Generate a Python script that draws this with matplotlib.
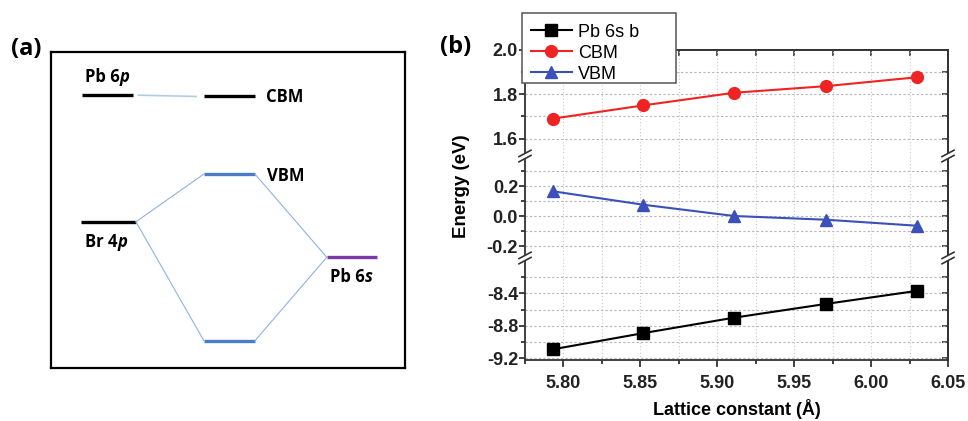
import matplotlib
matplotlib.use("Agg")
import matplotlib.pyplot as plt
from matplotlib.lines import Line2D
from matplotlib.patches import Polygon, Rectangle
from matplotlib.ticker import MultipleLocator, FixedLocator, FormatStrFormatter

plt.rcParams['axes.unicode_minus'] = False
plt.rcParams['font.family'] = ['Liberation Sans', 'DejaVu Sans']
plt.rcParams['font.weight'] = 'bold'

# ---- panel (a): orbital levels (axes fraction) ----
lvl_x0 = [0.087, 0.432, 0.432, 0.085, 0.432, 0.779]
lvl_x1 = [0.232, 0.576, 0.576, 0.240, 0.576, 0.920]
lvl_y = [0.862, 0.860, 0.613, 0.462, 0.086, 0.350]
# Br 4p -> VBM, Br 4p -> bonding, VBM -> Pb 6s, bonding -> Pb 6s
links = [(3, 2), (3, 4), (2, 5), (4, 5)]
lab_main = ['Pb 6', 'CBM', 'VBM', 'Br 4', 'Pb 6']
lab_ital = ['p', '', '', 'p', 's']
lab_x = [0.096, 0.607, 0.610, 0.096, 0.788]
lab_y = [0.903, 0.8415, 0.592, 0.383, 0.273]

# ---- panel (b) data ----
lattice = [5.793, 5.852, 5.911, 5.971, 6.030]
pb6s_b = [-9.09, -8.89, -8.70, -8.53, -8.37]
cbm = [1.690, 1.750, 1.807, 1.837, 1.877]
vbm = [0.165, 0.075, 0.000, -0.025, -0.065]

top_ticks, top_minor = [1.6, 1.8, 2.0], [1.7, 1.9]
mid_ticks, mid_minor = [-0.2, 0.0, 0.2], [-0.1, 0.1, 0.3]
bot_ticks, bot_minor = [-9.2, -8.8, -8.4], [-9.0, -8.6, -8.2]

W, H = 968, 421
fig = plt.figure(figsize=(W / 100, H / 100), dpi=100)


def box(l, t, r, b):
    return [l / W, 1 - b / H, (r - l) / W, (b - t) / H]


# ================= panel (a) =================
axa = fig.add_axes(box(51, 51.5, 405, 368))
axa.set_xlim(0, 1)
axa.set_ylim(0, 1)
axa.set_xticks([])
axa.set_yticks([])
for s in axa.spines.values():
    s.set_linewidth(1.6)

lvl_col = ['black', 'black', '#4a7dc4', 'black', '#4a7dc4', '#7b3aa8']
for i in range(len(lvl_y)):
    axa.plot([lvl_x0[i], lvl_x1[i]], [lvl_y[i], lvl_y[i]], color=lvl_col[i],
             lw=2.4, solid_capstyle='butt')
for i, j in links:
    axa.plot([lvl_x1[i], lvl_x0[j]], [lvl_y[i], lvl_y[j]], color='#8db3e2', lw=0.8)
axa.plot([lvl_x1[0] + 0.015, lvl_x0[1] - 0.022], [lvl_y[0], lvl_y[1] - 0.002],
         color='#b4cbe6', lw=1.2)

afont = 'Open Sans'
for m, it, x, y in zip(lab_main, lab_ital, lab_x, lab_y):
    t = axa.text(x, y, m, family=afont, fontweight='bold', fontsize=12,
                 ha='left', va='baseline')
    if it:
        axa.annotate(it, xy=(1, 0), xycoords=t, family=afont, fontweight='bold',
                     fontstyle='italic', fontsize=12, ha='left', va='bottom')

fig.text(26 / W, 1 - 49 / H, '(a)', family=afont, fontweight='bold', fontsize=17,
         ha='center', va='center')
fig.text(456 / W, 1 - 47 / H, '(b)', family=afont, fontweight='bold', fontsize=17,
         ha='center', va='center')

# ================= panel (b) =================
L, R = 525, 948
ax_top = fig.add_axes(box(L, 50, R, 156))
ax_mid = fig.add_axes(box(L, 156, R, 258))
ax_bot = fig.add_axes(box(L, 258, R, 360))
ax_top.set_ylim(1.5214, 2.0)
ax_mid.set_ylim(-0.28, 0.40)
ax_bot.set_ylim(-9.221, -7.966)

segs = [(ax_top, top_ticks, top_minor), (ax_mid, mid_ticks, mid_minor),
        (ax_bot, bot_ticks, bot_minor)]
for ax, tk, mn in segs:
    ax.set_xlim(5.775, 6.05)
    ax.xaxis.set_major_locator(MultipleLocator(0.05))
    ax.xaxis.set_minor_locator(MultipleLocator(0.025))
    ax.xaxis.set_major_formatter(FormatStrFormatter('%.2f'))
    ax.yaxis.set_major_locator(FixedLocator(tk))
    ax.yaxis.set_minor_locator(FixedLocator(mn))
    ax.yaxis.set_major_formatter(FormatStrFormatter('%.1f'))
    ax.grid(which='both', axis='y', color='#b5b5b5', ls=(0, (2, 2)), lw=0.8)
    ax.grid(which='both', axis='x', color='#c8c8c8', ls=(0, (1, 2)), lw=0.8)
    ax.set_axisbelow(True)
    ax.tick_params(axis='y', which='both', direction='out', width=1.2,
                   labelsize=13, pad=1, colors='#222222')
    ax.tick_params(axis='y', which='major', length=4)
    ax.tick_params(axis='y', which='minor', length=3)
    for s in ax.spines.values():
        s.set_linewidth(1.3)
        s.set_color('#333333')
    sec = ax.secondary_yaxis('right')
    sec.yaxis.set_major_locator(FixedLocator(tk))
    sec.yaxis.set_minor_locator(FixedLocator(mn))
    sec.tick_params(axis='y', which='both', direction='in', labelright=False,
                    width=1.2, length=4, colors='#333333')
    sec.spines['right'].set_linewidth(1.3)
    sec.spines['right'].set_color('#333333')

ax_top.spines['bottom'].set_visible(False)
ax_mid.spines['top'].set_visible(False)
ax_mid.spines['bottom'].set_visible(False)
ax_bot.spines['top'].set_visible(False)
for ax in (ax_top, ax_mid):
    ax.tick_params(axis='x', which='both', bottom=False, labelbottom=False)
ax_bot.tick_params(axis='x', which='both', direction='out', width=1.2,
                   labelsize=13, pad=6, colors='#222222')
ax_bot.tick_params(axis='x', which='major', length=5)
ax_bot.tick_params(axis='x', which='minor', length=3)

secx = ax_top.secondary_xaxis('top')
secx.xaxis.set_major_locator(MultipleLocator(0.05))
secx.xaxis.set_minor_locator(MultipleLocator(0.025))
secx.tick_params(axis='x', which='both', direction='in', labeltop=False,
                 width=1.2, length=4, colors='#333333')
secx.spines['top'].set_linewidth(1.3)
secx.spines['top'].set_color('#333333')

h1, = ax_bot.plot(lattice, pb6s_b, color='black', marker='s', ms=8, lw=1.5,
                  label='Pb 6s b', clip_on=False)
h2, = ax_top.plot(lattice, cbm, color='#f02323', marker='o', ms=8.5, lw=1.5,
                  label='CBM', clip_on=False)
h3, = ax_mid.plot(lattice, vbm, color='#3b50b8', marker='^', ms=9, lw=1.5,
                  label='VBM', clip_on=False)

# legend box (drawn separately, wider than the entries)
fig.add_artist(Rectangle((522 / W, 1 - 83 / H), (676 - 522) / W, (83 - 13) / H,
                         facecolor='white', edgecolor='#555555', lw=1.1,
                         transform=fig.transFigure, zorder=4))
leg = fig.legend(handles=[h1, h2, h3], loc='upper left',
                 bbox_to_anchor=(528 / W, 1 - 21 / H), frameon=False,
                 prop={'family': 'Liberation Sans', 'weight': 'normal', 'size': 13},
                 handlelength=2.3, handletextpad=0.3, borderpad=0.15,
                 labelspacing=0.22, borderaxespad=0)
leg.set_zorder(5)

# axis break marks
for py in (156, 258):
    for px in (L, R):
        dx, dy, g = 6, 3.2, 2.6
        pts = [(px - dx, py + dy - g), (px + dx, py - dy - g),
               (px + dx, py - dy + g), (px - dx, py + dy + g)]
        fig.add_artist(Polygon([(x / W, 1 - y / H) for x, y in pts], closed=True,
                               facecolor='white', edgecolor='none',
                               transform=fig.transFigure))
        for off in (-g, g):
            fig.add_artist(Line2D([(px - dx) / W, (px + dx) / W],
                                  [1 - (py + dy + off) / H, 1 - (py - dy + off) / H],
                                  color='#333333', lw=1.2, transform=fig.transFigure))

fig.text(461 / W, 1 - 186 / H, 'Energy (eV)', rotation=90, ha='center', va='center',
         fontsize=13.5, fontweight='bold')
fig.text((L + R) / 2 / W, 1 - 409 / H, 'Lattice constant (Å)', ha='center',
         va='center', fontsize=13, fontweight='bold')

fig.savefig('out.png', dpi=100)
